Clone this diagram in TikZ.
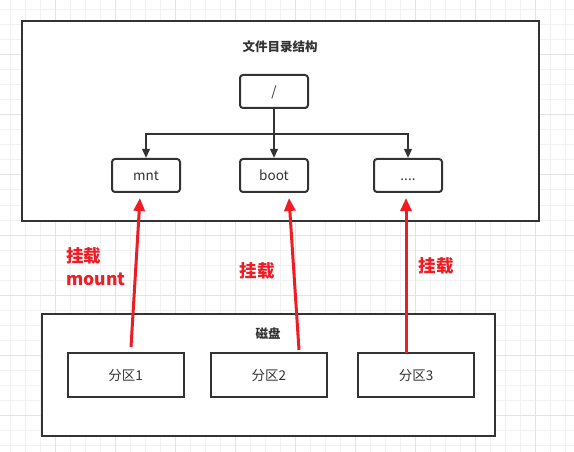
\documentclass[tikz,border=0pt]{standalone}
\usepackage{fontspec}
\setmainfont{Noto Sans CJK SC}
\usetikzlibrary{arrows.meta}
\definecolor{ink}{HTML}{333333}
\definecolor{redink}{HTML}{EE1C25}
\definecolor{gridminor}{HTML}{F1F1F1}
\definecolor{gridmajor}{HTML}{E3E3E3}
\begin{document}
\begin{tikzpicture}[x=1pt,y=-1pt,
  container/.style={draw=ink,line width=2pt,fill=white,inner sep=0pt},
  dirbox/.style={draw=ink,line width=2pt,rounded corners=3pt,fill=white,minimum width=68pt,minimum height=33pt,inner sep=0pt,text height=12pt,text depth=1.5pt,font=\fontsize{13.5}{15}\selectfont,text=ink},
  partbox/.style={draw=ink,line width=2pt,fill=white,minimum width=116pt,minimum height=44pt,inner sep=0pt,text height=12pt,text depth=1.5pt,font=\fontsize{13.5}{15}\selectfont,text=ink},
  titletext/.style={font=\fontsize{12.5}{15}\selectfont\bfseries,text=ink},
  tree/.style={draw=ink,line width=2pt,-{Triangle[width=7.5pt,length=9pt]}},
  mountarrow/.style={draw=redink,line width=3pt,-{Triangle[width=11pt,length=13pt]}},
  redlabel/.style={font=\fontsize{17.5}{23}\selectfont\bfseries,text=redink,inner sep=0pt}
]
\useasboundingbox (0,0) rectangle (574,452);
\fill[white] (0,0) rectangle (574,452);
% grid
\foreach \x in {10.7,25.7,...,574} \draw[gridminor,line width=1pt] (\x,0) -- (\x,452);
\foreach \y in {10,25,...,452} \draw[gridminor,line width=1pt] (0,\y) -- (574,\y);
\foreach \x in {55.7,115.7,...,574} \draw[gridmajor,line width=1pt] (\x,0) -- (\x,452);
\foreach \y in {55,115,...,452} \draw[gridmajor,line width=1pt] (0,\y) -- (574,\y);

% top container
\node[container,minimum width=517pt,minimum height=200pt] (fs) at (280.5,121) {};
\node[titletext] (fstitle) at (280,47) {文件目录结构};
\node[dirbox] (root) at (274,91.5) {/};
\node[dirbox] (mnt) at (146,175.5) {mnt};
\node[dirbox] (boot) at (274,175.5) {boot};
\node[dirbox] (dots) at (408,175.5) {....};
\coordinate (branch) at (274,134);
\draw[ink,line width=2pt] (root.south) -- (branch);
\draw[tree] (branch) -- (boot.north);
\draw[tree] (branch) -| (mnt.north);
\draw[tree] (branch) -| (dots.north);

% disk container
\node[container,minimum width=453pt,minimum height=122pt] (disk) at (268.5,375) {};
\node[titletext] (disktitle) at (268,334) {磁盘};
\node[partbox] (p1) at (125.7,375) {分区1};
\node[partbox] (p2) at (268.9,375) {分区2};
\node[partbox] (p3) at (416,375) {分区3};

% mount arrows
\coordinate (s1) at (131,347);
\coordinate (t1) at (140,198);
\coordinate (s2) at (299,350);
\coordinate (t2) at (289,198);
\coordinate (s3) at (406,353);
\coordinate (t3) at (406,198);
\draw[mountarrow] (s1) -- (t1);
\draw[mountarrow] (s2) -- (t2);
\draw[mountarrow] (s3) -- (t3);

\node[redlabel,anchor=west,align=left] (lab1) at (66,266.5) {挂载\\mount};
\node[redlabel] (lab2) at (257,271) {挂载};
\node[redlabel] (lab3) at (436,266) {挂载};
\end{tikzpicture}
\end{document}
